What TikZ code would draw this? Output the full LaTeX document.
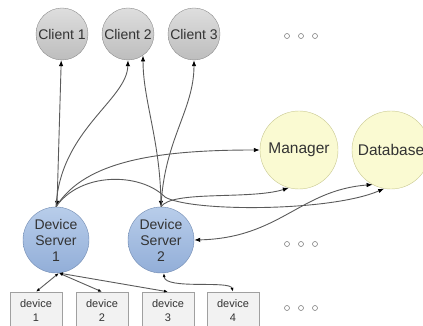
\documentclass[tikz,border=0pt]{standalone}
\usepackage{fontspec}
\setmainfont{Liberation Sans}
\usetikzlibrary{arrows.meta,positioning}
\definecolor{cltop}{HTML}{DEDEDE}
\definecolor{clbot}{HTML}{BDBDBD}
\definecolor{clline}{HTML}{8C8C8C}
\definecolor{srvtop}{HTML}{B8CDEA}
\definecolor{srvbot}{HTML}{92AED8}
\definecolor{srvline}{HTML}{6F89B0}
\definecolor{mgfill}{HTML}{FAFAD2}
\definecolor{mgline}{HTML}{C8C890}
\definecolor{devfill}{HTML}{F2F2F2}
\definecolor{devline}{HTML}{A0A0A0}
\definecolor{lngray}{HTML}{5A5A5A}
\definecolor{txt}{HTML}{333333}

\begin{document}
\begin{tikzpicture}[x=1pt,y=-1pt,>={Latex[length=6pt,width=4.5pt,black]},
 cl/.style={draw=clline,circle,minimum size=52pt,inner sep=0pt,top color=cltop,bottom color=clbot,text=txt,font=\fontsize{14}{16}\selectfont},
 srv/.style={draw=srvline,circle,minimum size=66pt,inner sep=0pt,top color=srvtop,bottom color=srvbot,text=txt,align=center,font=\fontsize{14}{16}\selectfont},
 svc/.style={draw=mgline,circle,minimum size=78pt,inner sep=0pt,fill=mgfill,text=txt,font=\fontsize{15.5}{18}\selectfont},
 dev/.style={draw=devline,rectangle,minimum width=52pt,minimum height=38pt,inner sep=0pt,fill=devfill,text=txt,align=center,font=\fontsize{11}{14}\selectfont},
 ln/.style={draw=lngray,line width=0.9pt},
 sm/.style={{Latex[length=4pt,width=3pt,black]}-{Latex[length=4pt,width=3pt,black]}},
 dotc/.style={draw=gray,line width=0.6pt}]
\useasboundingbox (0,0) rectangle (423,326);
% clients
\node[cl] (c1) at (62,34) {Client 1};
\node[cl] (c2) at (128,34) {Client 2};
\node[cl] (c3) at (194,34) {Client 3};
% services
\node[svc] (man) at (299,150) {Manager};
\node[svc] (db) at (391,150) {Database};
% device servers
\node[srv] (ds1) at (56,240) {Device\\Server\\1};
\node[srv] (ds2) at (161,240) {Device\\Server\\2};
% devices
\node[dev] (d1) at (36,311) {device\\1};
\node[dev] (d2) at (102,311) {device\\2};
\node[dev] (d3) at (168,311) {device\\3};
\node[dev] (d4) at (233,311) {device\\4};
% more of the same
\foreach \y in {36,244,308}
 \foreach \x in {287,301,315}
  \draw[dotc] (\x,\y) circle (2.5pt);
% server <-> clients
\draw[ln,<->] (ds1) -- (c1);
\draw[ln,->] (ds1.north) .. controls (60,130) and (127,100) .. (c2.south);
\draw[ln,<->] (ds2.north) .. controls (160,140) and (143,100) .. (c2.-55);
\draw[ln,->] (ds2.north) .. controls (164,140) and (194,110) .. (c3.south);
% server -> manager / database
\draw[ln,->] (ds1.north) .. controls (85,160) and (160,150) .. (man.west);
\draw[ln,->] (ds1.north) .. controls (80,172) and (140,172) .. (165,197)
 .. controls (190,212) and (330,212) .. (db.-100);
\draw[ln,->] (ds2.north) .. controls (172,190) and (250,200) .. (man.-105);
\draw[ln,<->] (ds2.east) .. controls (280,238) and (300,190) .. (db.-118);
% server <-> devices
\draw[ln,sm] (ds1.-85) -- (d1.north);
\draw[ln,sm] (ds1.-85) -- (d2.north);
\draw[ln,sm] (ds1.-85) -- (d3.north);
\draw[ln,sm] (ds2.-85) .. controls (165,290) and (230,280) .. (d4.north);
\end{tikzpicture}
\end{document}
